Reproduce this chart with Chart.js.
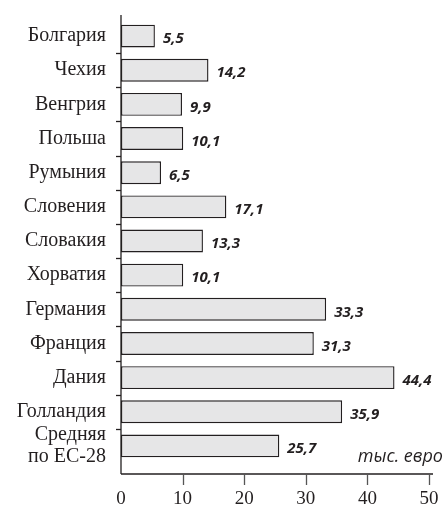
<!DOCTYPE html>
<html>
<head>
<meta charset="utf-8">
<script src="https://cdn.jsdelivr.net/npm/chart.js@4.4.0/dist/chart.umd.min.js"></script>
<style>
  html, body { margin: 0; padding: 0; background: #fff; }
  #wrap { width: 445px; height: 506px; }
</style>
</head>
<body>
<div id="wrap"><canvas id="chart" width="445" height="506"></canvas></div>
<script>
const countries = ['Болгария', 'Чехия', 'Венгрия', 'Польша', 'Румыния', 'Словения', 'Словакия',
  'Хорватия', 'Германия', 'Франция', 'Дания', 'Голландия', ['Средняя', 'по ЕС-28']]
const values = [5.5, 14.2, 9.9, 10.1, 6.5, 17.1, 13.3, 10.1, 33.3, 31.3, 44.4, 35.9, 25.7]
const xTicks = [0, 10, 20, 30, 40, 50]
const unitLabel = 'тыс. евро'

const ink = '#231f20'
const serif = '"Liberation Serif", "DejaVu Serif", serif'

// axis lines, tick marks, value labels and unit
const decor = {
  id: 'decor',
  afterDatasetsDraw(chart) {
    const ctx = chart.ctx
    const x = chart.scales.x
    const y = chart.scales.y
    const area = chart.chartArea
    const axisY = 474
    ctx.save()
    ctx.strokeStyle = ink
    ctx.lineWidth = 1.3
    // y axis line
    ctx.beginPath()
    ctx.moveTo(area.left, 15)
    ctx.lineTo(area.left, axisY)
    ctx.stroke()
    // x axis line
    ctx.beginPath()
    ctx.moveTo(area.left, axisY)
    ctx.lineTo(x.getPixelForValue(50) + 4, axisY)
    ctx.stroke()
    // x ticks hanging below the axis
    ctx.strokeStyle = '#555'
    xTicks.forEach(v => {
      if (v === 0) return
      const px = Math.round(x.getPixelForValue(v)) + 0.5
      ctx.beginPath()
      ctx.moveTo(px, axisY)
      ctx.lineTo(px, axisY + 11)
      ctx.stroke()
    })
    // y ticks at category boundaries
    ctx.strokeStyle = ink
    for (let i = 1; i < countries.length; i++) {
      const py = Math.round((y.getPixelForValue(i - 1) + y.getPixelForValue(i)) / 2) + 0.5
      ctx.beginPath()
      ctx.moveTo(area.left - 5, py)
      ctx.lineTo(area.left, py)
      ctx.stroke()
    }
    // value labels
    ctx.fillStyle = ink
    ctx.font = 'italic bold 15px "Open Sans"'
    ctx.textAlign = 'left'
    ctx.textBaseline = 'middle'
    chart.getDatasetMeta(0).data.forEach((bar, i) => {
      ctx.fillText(values[i].toFixed(1).replace('.', ','), bar.x + 8, bar.y + 3)
    })
    // unit
    ctx.font = 'italic 18px "Open Sans"'
    ctx.textAlign = 'right'
    ctx.textBaseline = 'alphabetic'
    ctx.fillText(unitLabel, 443, 462)
    ctx.restore()
  }
}

new Chart(document.getElementById('chart'), {
  type: 'bar',
  data: {
    labels: countries,
    datasets: [{
      data: values,
      backgroundColor: '#e6e6e7',
      borderColor: ink,
      borderWidth: 1.4,
      borderSkipped: false,
      barPercentage: 0.67,
      categoryPercentage: 1
    }]
  },
  options: {
    indexAxis: 'y',
    responsive: false,
    animation: false,
    layout: { padding: { top: 19, right: 16, left: 0, bottom: 0 } },
    plugins: { legend: { display: false }, tooltip: { enabled: false } },
    scales: {
      x: {
        min: 0,
        max: 50,
        afterBuildTicks(scale) {
          scale.ticks = xTicks.map(v => ({ value: v }))
        },
        afterFit(scale) {
          scale.height = 43
          scale.paddingLeft = 0
          scale.paddingRight = 0
        },
        grid: { display: false, drawTicks: false },
        border: { display: false },
        ticks: {
          color: ink,
          font: { family: serif, size: 19 },
          padding: 25,
          maxRotation: 0
        }
      },
      y: {
        afterFit(scale) {
          scale.width = 121
          scale.paddingTop = 0
          scale.paddingBottom = 0
        },
        grid: { display: false, drawTicks: false },
        border: { display: false },
        ticks: {
          color: ink,
          autoSkip: false,
          font: { family: serif, size: 20, lineHeight: 1.1 },
          padding: 15
        }
      }
    }
  },
  plugins: [decor]
})
</script>
</body>
</html>
